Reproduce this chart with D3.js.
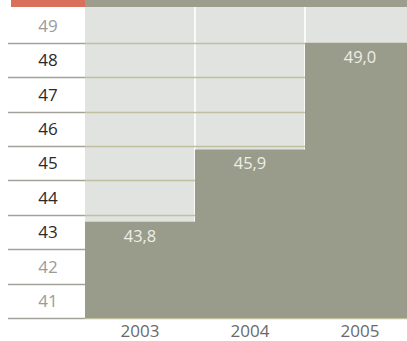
<!DOCTYPE html>
<html>
<head>
<meta charset="utf-8">
<script src="https://cdnjs.cloudflare.com/ajax/libs/d3/7.8.5/d3.min.js"></script>
<style>
  html, body { margin: 0; padding: 0; background: #fff; }
  svg { display: block; font-family: "Open Sans", "Noto Sans", sans-serif; }
</style>
</head>
<body>
<svg width="407" height="341"></svg>
<script>
  // data
  const years = ["2003", "2004", "2005"];
  const values = [43.8, 45.9, 49.0];
  const ticks = [41, 42, 43, 44, 45, 46, 47, 48, 49];

  const svg = d3.select("svg");
  const W = 407;
  const plotLeft = 85, plotTop = 7, plotBottom = 318;

  const x = d3.scaleBand().domain(years).range([plotLeft, plotLeft + 330]);
  const y = d3.scaleLinear().domain([41, 50]).range([plotBottom, 8.5]);

  const fmt = d3.formatLocale({ decimal: ",", thousands: ".", grouping: [3], currency: ["", ""] }).format(".1f");

  // top strip
  svg.append("rect").attr("x", 11).attr("y", 0).attr("width", plotLeft - 11).attr("height", plotTop)
    .attr("fill", "#d8705b");
  svg.append("rect").attr("x", plotLeft).attr("y", 0).attr("width", W - plotLeft).attr("height", plotTop)
    .attr("fill", "#9c9d8c");

  // light background of the plot
  svg.append("rect").attr("x", plotLeft).attr("y", plotTop).attr("width", W - plotLeft).attr("height", plotBottom - plotTop)
    .attr("fill", "#e1e3e0");

  // column separators
  svg.selectAll(".sep").data(years.slice(1)).enter().append("line")
    .attr("x1", d => x(d)).attr("x2", d => x(d))
    .attr("y1", plotTop).attr("y2", plotBottom)
    .attr("stroke", "#fafaf8").attr("stroke-width", 2);

  // grid lines
  svg.selectAll(".gl").data(ticks).enter().append("line")
    .attr("x1", 8).attr("x2", plotLeft)
    .attr("y1", d => Math.round(y(d)) + 0.5).attr("y2", d => Math.round(y(d)) + 0.5)
    .attr("stroke", "#a3a39b").attr("stroke-width", 1.3);
  svg.selectAll(".gr").data(ticks).enter().append("line")
    .attr("x1", plotLeft).attr("x2", W)
    .attr("y1", d => Math.round(y(d)) + 0.5).attr("y2", d => Math.round(y(d)) + 0.5)
    .attr("stroke", "#c0bf9f").attr("stroke-width", 1.3);

  // bars
  svg.selectAll(".bar").data(values).enter().append("rect")
    .attr("x", (d, i) => x(years[i]))
    .attr("y", d => y(d))
    .attr("width", x.bandwidth())
    .attr("height", d => plotBottom - y(d))
    .attr("fill", "#9a9c8b");

  // value labels
  svg.selectAll(".val").data(values).enter().append("text")
    .attr("x", (d, i) => x(years[i]) + x.bandwidth() / 2)
    .attr("y", d => y(d) + 20)
    .attr("text-anchor", "middle")
    .attr("font-size", 16.5)
    .attr("fill", "#eeeee8")
    .text(d => fmt(d));

  // tick labels, centred in each band
  svg.selectAll(".tick").data(ticks).enter().append("text")
    .attr("x", 48)
    .attr("y", d => (y(d) + y(d + 1)) / 2)
    .attr("dy", "0.36em")
    .attr("text-anchor", "middle")
    .attr("font-size", 17)
    .attr("fill", d => (d < 43 || d > 48) ? "#9b9b9b" : "#2a2a2a")
    .text(d => d);

  // year labels
  svg.selectAll(".yr").data(years).enter().append("text")
    .attr("x", d => x(d) + x.bandwidth() / 2)
    .attr("y", 337)
    .attr("text-anchor", "middle")
    .attr("font-size", 17)
    .attr("fill", "#6a6a6a")
    .text(d => d);
</script>
</body>
</html>
